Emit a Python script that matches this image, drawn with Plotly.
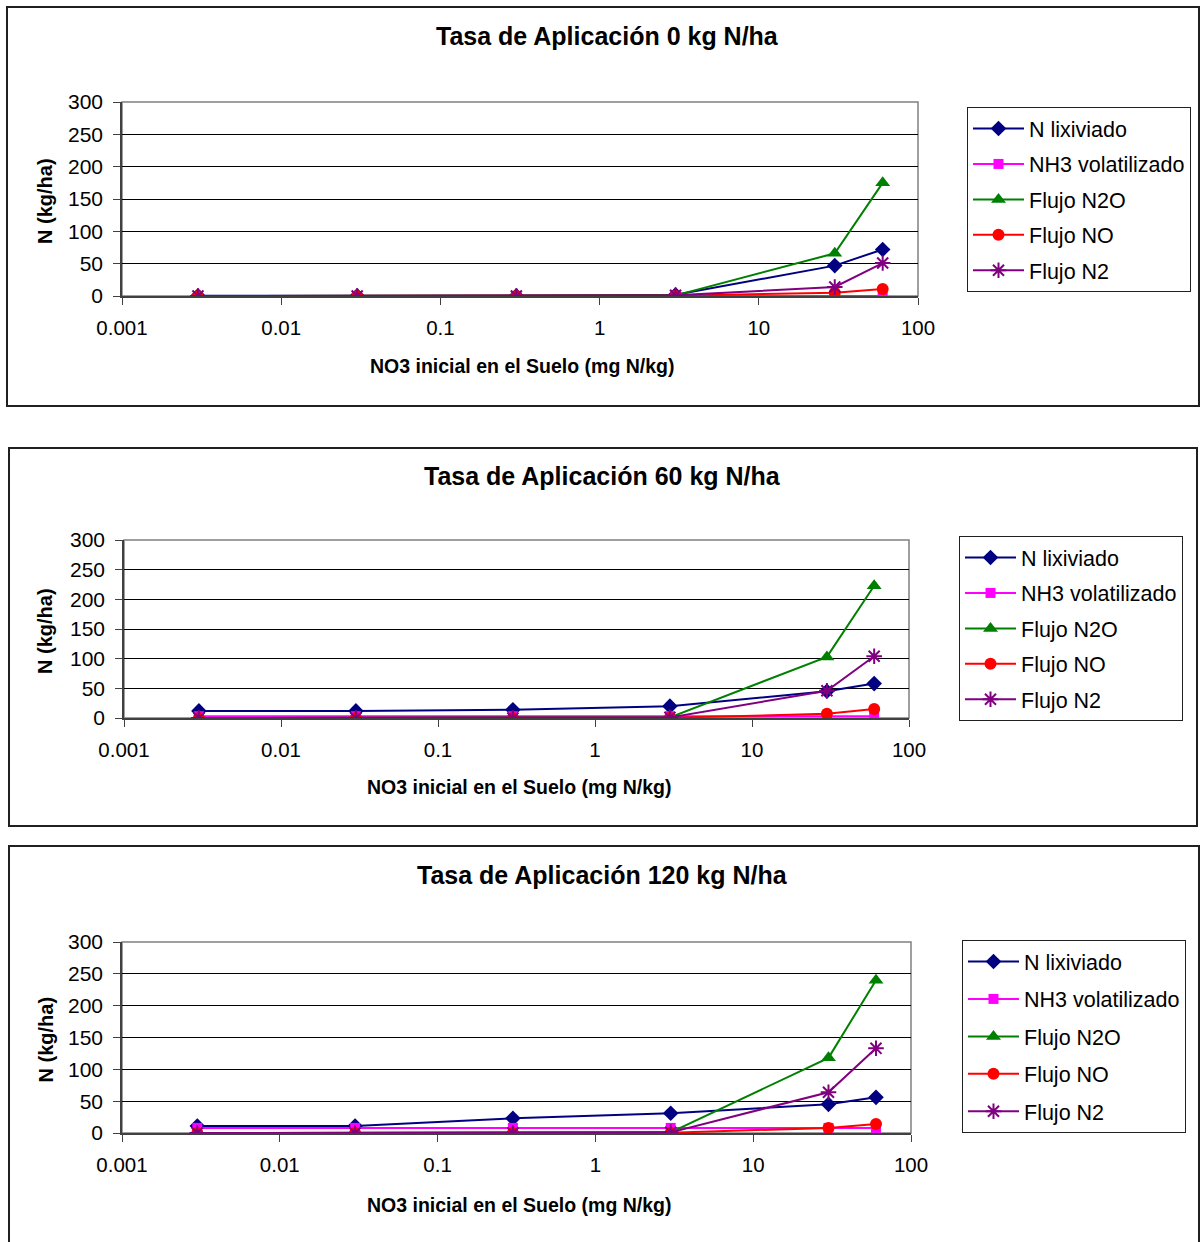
import plotly.graph_objects as go

W, H = 1200, 1242

# Initial soil nitrate (mg N/kg), shared by all three application rates
no3_inicial = [0.003, 0.03, 0.3, 3, 30, 60]

series_names = ["N lixiviado", "NH3 volatilizado", "Flujo N2O", "Flujo NO", "Flujo N2"]

# Application rate 0 kg N/ha
r0_lixiviado = [0.5, 0.5, 0.5, 2, 47, 72]
r0_nh3 = [0, 0, 0, 0, 0, 0]
r0_n2o = [0, 0, 0, 1, 66, 175]
r0_no = [0, 0, 0, 0.5, 5, 11]
r0_n2 = [0, 0, 0, 1, 14, 51]

# Application rate 60 kg N/ha
r60_lixiviado = [12, 12, 14, 20, 45, 58]
r60_nh3 = [3, 3, 3, 3, 3, 3]
r60_n2o = [0, 0, 0, 1, 103, 223]
r60_no = [0, 0, 0, 0.5, 7, 15]
r60_n2 = [0, 0, 0, 1, 46, 104]

# Application rate 120 kg N/ha
r120_lixiviado = [11, 11, 23, 31, 45, 56]
r120_nh3 = [8, 8, 8, 8, 8, 8]
r120_n2o = [0, 0, 0, 1, 118, 240]
r120_no = [0, 0, 0, 0.5, 8, 14]
r120_n2 = [0, 0, 0, 1, 64, 133]

titles = ["Tasa de Aplicación 0 kg N/ha",
          "Tasa de Aplicación 60 kg N/ha",
          "Tasa de Aplicación 120 kg N/ha"]

x_tickvals = [0.001, 0.01, 0.1, 1, 10, 100]
x_ticktext = ["0.001", "0.01", "0.1", "1", "10", "100"]
y_tickvals = [0, 50, 100, 150, 200, 250, 300]

x_title = "NO3 inicial en el Suelo (mg N/kg)"
y_title = "N (kg/ha)"

colors = ["#000080", "#FF00FF", "#008000", "#FF0000", "#800080"]
symbols = ["diamond", "square", "triangle-up", "circle", "asterisk-open"]
msizes = [12, 10, 13, 12, 13]

FONT = "Liberation Sans, Arial, sans-serif"


def px_x(p):
    return p / W


def px_y(p):
    return 1 - p / H


# pixel layout of each panel: outer box, plot area, legend box, title row
panels = [
    dict(box=(7, 7, 1199, 406), plot=(122, 102, 918, 296), legend=(967, 107), gap=4.5,
         title_x=607, title_y=36, xt_y=366),
    dict(box=(9, 448, 1197, 826), plot=(124, 540, 909, 718), legend=(959, 536), gap=4.5,
         title_x=603, title_y=476, xt_y=787),
    dict(box=(9, 846, 1199, 1250), plot=(122, 942, 911, 1133), legend=(962, 940), gap=6.5,
         title_x=603, title_y=875, xt_y=1205),
]

data_sets = [
    [r0_lixiviado, r0_nh3, r0_n2o, r0_no, r0_n2],
    [r60_lixiviado, r60_nh3, r60_n2o, r60_no, r60_n2],
    [r120_lixiviado, r120_nh3, r120_n2o, r120_no, r120_n2],
]

fig = go.Figure()
shapes = []
annotations = []

for i, (panel, series) in enumerate(zip(panels, data_sets)):
    n = i + 1
    xa = "x" if n == 1 else f"x{n}"
    ya = "y" if n == 1 else f"y{n}"
    leg = "legend" if n == 1 else f"legend{n}"
    for j, (name, vals) in enumerate(zip(series_names, series)):
        fig.add_trace(go.Scatter(
            x=no3_inicial, y=vals, name=name, mode="lines+markers",
            xaxis=xa, yaxis=ya, legend=leg, legendgroup=f"p{n}s{j}",
            line=dict(color=colors[j], width=2),
            marker=dict(symbol=symbols[j], size=msizes[j], color=colors[j],
                        line=dict(color=colors[j], width=2 if j == 4 else 0)),
        ))

    x0, y0, x1, y1 = panel["plot"]
    fig.layout[f"xaxis{'' if n == 1 else n}"] = dict(
        type="log", range=[-3, 2], domain=[px_x(x0), px_x(x1)], anchor=ya,
        tickvals=x_tickvals, ticktext=x_ticktext, ticks="outside", ticklen=7,
        tickcolor="#404040", showline=True, linecolor="#404040", linewidth=1.5,
        showgrid=False, zeroline=False, automargin=False, ticklabelstandoff=6,
        tickfont=dict(family=FONT, size=20.5, color="black"))
    fig.layout[f"yaxis{'' if n == 1 else n}"] = dict(
        range=[0, 300], domain=[px_y(y1), px_y(y0)], anchor=xa,
        tickvals=y_tickvals, ticks="outside", ticklen=7, tickcolor="#404040",
        showline=True, linecolor="#404040", linewidth=1.5, automargin=False,
        showgrid=True, gridcolor="#000000", gridwidth=1, zeroline=False,
        ticklabelstandoff=6,
        tickfont=dict(family=FONT, size=21, color="black"))

    # gray plot-area frame
    shapes.append(dict(type="rect", xref=f"{xa} domain", yref=f"{ya} domain",
                       x0=0, x1=1, y0=0, y1=1, line=dict(color="#808080", width=1.5),
                       layer="below"))
    # outer chart box
    bx0, by0, bx1, by1 = panel["box"]
    shapes.append(dict(type="rect", xref="paper", yref="paper",
                       x0=px_x(bx0), x1=px_x(bx1), y0=px_y(by1), y1=px_y(by0),
                       line=dict(color="#202020", width=2)))

    annotations.append(dict(text=f"<b>{titles[i]}</b>", xref="paper", yref="paper",
                            x=px_x(panel["title_x"]), y=px_y(panel["title_y"]),
                            xanchor="center", yanchor="middle", showarrow=False,
                            font=dict(family=FONT, size=25, color="black")))
    annotations.append(dict(text=f"<b>{x_title}</b>", xref="paper", yref="paper",
                            x=px_x((x0 + x1) / 2 + 2), y=px_y(panel["xt_y"]),
                            xanchor="center", yanchor="middle", showarrow=False,
                            font=dict(family=FONT, size=19.5, color="black")))
    annotations.append(dict(text=f"<b>{y_title}</b>", xref="paper", yref="paper",
                            x=px_x(45), y=px_y((y0 + y1) / 2 + 2), textangle=-90,
                            xanchor="center", yanchor="middle", showarrow=False,
                            font=dict(family=FONT, size=20, color="black")))

    lx, ly = panel["legend"]
    fig.layout[leg] = dict(
        x=px_x(lx), y=px_y(ly), xanchor="left", yanchor="top",
        bgcolor="white", bordercolor="#202020", borderwidth=1,
        font=dict(family=FONT, size=21.5, color="black"),
        tracegroupgap=panel["gap"], itemwidth=51,
    )

fig.update_layout(
    width=W, height=H, margin=dict(l=0, r=0, t=0, b=0, autoexpand=False),
    paper_bgcolor="white", plot_bgcolor="white",
    shapes=shapes, annotations=annotations, showlegend=True,
)

fig.write_html("out.html")
